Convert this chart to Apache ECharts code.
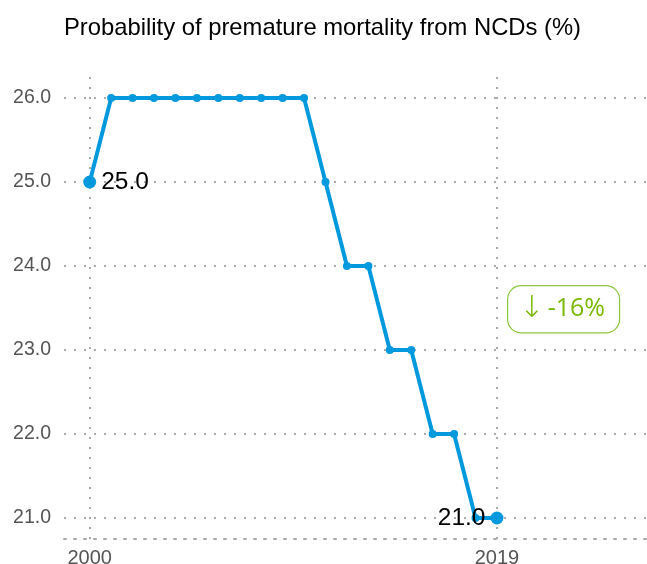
<!DOCTYPE html>
<html>
<head>
    <meta charset="utf-8">
    <title>NCD mortality</title>
    <script type="text/javascript" src="https://cdn.jsdelivr.net/npm/echarts@6/dist/echarts.min.js"></script>
    <style>
        html, body { margin: 0; padding: 0; background: #fff; }
        #chartmain { width: 647px; height: 564px; }
    </style>
</head>
<body>
<div id="chartmain"></div>
<script type="text/javascript">
    // 数据
    var years = [2000, 2001, 2002, 2003, 2004, 2005, 2006, 2007, 2008, 2009,
                 2010, 2011, 2012, 2013, 2014, 2015, 2016, 2017, 2018, 2019];
    var values = [25, 26, 26, 26, 26, 26, 26, 26, 26, 26,
                  26, 25, 24, 24, 23, 23, 22, 22, 21, 21];
    var xTicks = [2000, 2019];
    var yTicks = [21, 22, 23, 24, 25, 26];
    var changeText = '-16%';

    var points = years.map(function (y, i) {
        var last = i === 0 || i === years.length - 1;
        return {
            value: [y, values[i]],
            symbolSize: last ? 13 : 8,
            label: {
                show: last,
                position: i === 0 ? 'right' : 'left',
                distance: 5,
                offset: i === 0 ? [0, 2] : [0, 3],
                formatter: function (p) { return p.value[1].toFixed(1); },
                fontFamily: 'Liberation Sans',
                fontSize: 24.5,
                color: '#000'
            }
        };
    });

    var myChart = echarts.init(document.getElementById('chartmain'));
    var gridDot = { color: '#aaa', width: 2, type: [2, 8] };
    var option = {
        animation: false,
        title: {
            text: 'Probability of premature mortality from NCDs (%)',
            left: 59, top: 11,
            textStyle: { fontFamily: 'Liberation Sans', fontWeight: 'normal', fontSize: 23.8, color: '#000' }
        },
        grid: { left: 64, right: 0, top: 77, bottom: 25, outerBoundsMode: 'none' },
        xAxis: {
            type: 'value',
            min: 1998.8, max: 2026,
            axisLine: { show: true, lineStyle: gridDot },
            axisTick: { show: false, customValues: xTicks },
            axisLabel: {
                customValues: xTicks, margin: 9,
                fontFamily: 'Liberation Sans', fontSize: 20, color: '#555',
                formatter: function (v) { return String(v); }
            },
            splitLine: { show: true, lineStyle: gridDot }
        },
        yAxis: {
            type: 'value',
            min: 20.75, max: 26.25,
            axisLine: { show: false },
            axisTick: { show: false, customValues: yTicks },
            axisLabel: {
                customValues: yTicks, margin: 13,
                fontFamily: 'Liberation Sans', fontSize: 19.5, color: '#555',
                formatter: function (v) { return v.toFixed(1); }
            },
            splitLine: { show: true, lineStyle: gridDot }
        },
        graphic: [{
            type: 'text',
            left: 507, top: 285,
            style: {
                text: '{a|↓} {b|' + changeText + '}',
                rich: {
                    a: { fontFamily: 'DejaVu Sans', fontSize: 30, fontWeight: 200, fill: '#7ab800', color: '#7ab800' },
                    b: { fontFamily: 'Open Sans', fontSize: 25, fill: '#7ab800', color: '#7ab800' }
                },
                fill: '#7ab800',
                backgroundColor: '#fff',
                borderColor: '#8cc63f', borderWidth: 1.2, borderRadius: 13,
                padding: [8, 14, 8, 11]
            }
        }],
        series: [{
            type: 'line',
            data: points,
            symbol: 'circle',
            color: '#0099dd',
            lineStyle: { width: 4, color: '#0099dd' },
            labelLayout: { hideOverlap: false }
        }]
    };
    myChart.setOption(option);
</script>
</body>
</html>
